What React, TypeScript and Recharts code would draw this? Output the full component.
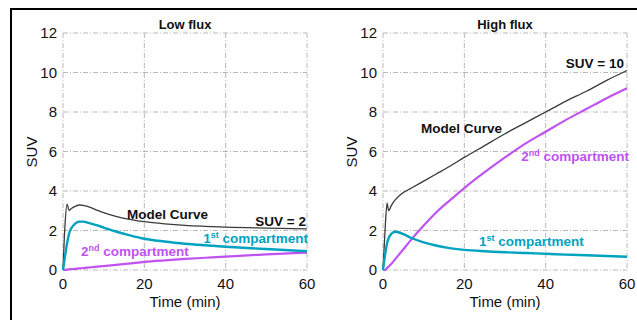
import React from "react";
import {
  LineChart,
  Line,
  XAxis,
  YAxis,
  CartesianGrid,
} from "recharts";

// Low flux panel
const lowTime = [0, 0.5, 1, 1.5, 2, 3, 4, 5, 6, 8, 10, 13, 16, 20, 25, 30, 35, 40, 50, 60];
const lowModel = [0, 2.3, 3.34, 3.02, 3.1, 3.22, 3.29, 3.27, 3.22, 3.06, 2.9, 2.72, 2.58, 2.45, 2.34, 2.26, 2.21, 2.17, 2.12, 2.08];
const lowFirst = [0, 0.7, 1.35, 1.85, 2.1, 2.35, 2.45, 2.45, 2.4, 2.28, 2.15, 1.95, 1.78, 1.58, 1.44, 1.33, 1.25, 1.18, 1.06, 0.95];
const lowSecond = [0, 0.01, 0.02, 0.03, 0.04, 0.06, 0.08, 0.1, 0.12, 0.16, 0.2, 0.26, 0.32, 0.41, 0.49, 0.56, 0.62, 0.68, 0.79, 0.88];

// High flux panel
const highTime = [0, 0.5, 1, 1.4, 2, 3, 4, 5, 7, 10, 13, 16, 20, 25, 30, 35, 40, 45, 50, 55, 60];
const highModel = [0, 2.0, 3.38, 3.0, 3.25, 3.55, 3.76, 3.92, 4.15, 4.5, 4.85, 5.2, 5.7, 6.3, 6.9, 7.45, 8.0, 8.55, 9.05, 9.6, 10.1];
const highFirst = [0, 0.75, 1.35, 1.62, 1.82, 1.94, 1.9, 1.82, 1.62, 1.4, 1.24, 1.12, 1.02, 0.95, 0.9, 0.86, 0.82, 0.78, 0.75, 0.71, 0.67];
const highSecond = [0, 0, 0.1, 0.18, 0.3, 0.55, 0.8, 1.05, 1.55, 2.25, 2.9, 3.45, 4.15, 4.95, 5.7, 6.4, 7.0, 7.6, 8.15, 8.7, 9.2];

const xTicks = [0, 20, 40, 60];
const yTicks = [0, 2, 4, 6, 8, 10, 12];

const MODEL_COLOR = "#3a3a3a";
const FIRST_COLOR = "#00a3bf";
const SECOND_COLOR = "#c052f2";
const FONT = "'Liberation Sans', Arial, Helvetica, sans-serif";

function buildRows(t: number[], m: number[], f: number[], s: number[]) {
  return t.map((time, i) => ({ time, model: m[i], first: f[i], second: s[i] }));
}

const lowData = buildRows(lowTime, lowModel, lowFirst, lowSecond);
const highData = buildRows(highTime, highModel, highFirst, highSecond);

const tickStyle = { fontSize: 15, fill: "#111", fontFamily: FONT };

function Panel({ data }: { data: ReturnType<typeof buildRows> }) {
  return (
    <LineChart
      width={317}
      height={320}
      data={data}
      margin={{ top: 33, right: 10, bottom: 0, left: 23 }}
    >
      <CartesianGrid stroke="#b8b8b8" strokeDasharray="5 2 1 2" />
      <XAxis
        dataKey="time"
        type="number"
        domain={[0, 60]}
        ticks={xTicks}
        height={50}
        axisLine={false}
        tickLine={false}
        tickSize={0}
        tickMargin={8}
        tick={tickStyle}
        interval={0}
      />
      <YAxis
        type="number"
        domain={[0, 12]}
        ticks={yTicks}
        width={40}
        axisLine={false}
        tickLine={false}
        tickSize={0}
        tickMargin={6}
        tick={tickStyle}
        interval={0}
      />
      <Line type="monotone" dataKey="model" stroke={MODEL_COLOR} strokeWidth={1.3} dot={false} isAnimationActive={false} />
      <Line type="monotone" dataKey="second" stroke={SECOND_COLOR} strokeWidth={2.2} dot={false} isAnimationActive={false} />
      <Line type="monotone" dataKey="first" stroke={FIRST_COLOR} strokeWidth={2.4} dot={false} isAnimationActive={false} />
    </LineChart>
  );
}

function Sup({ x, y, anchor, color, num, sup }: { x: number; y: number; anchor?: string; color: string; num: string; sup: string }) {
  return (
    <text x={x} y={y} fill={color} fontSize={13.5} fontWeight="bold" fontFamily={FONT} textAnchor={anchor || "start"}>
      {num}
      <tspan dy={-5} fontSize={9}>{sup}</tspan>
      <tspan dy={5}> compartment</tspan>
    </text>
  );
}

export default function App() {
  const bold = { fontFamily: FONT, fontWeight: "bold" as const, fontSize: 13.5, fill: "#111" };
  const plain = { fontFamily: FONT, fontSize: 15, fill: "#111" };
  return (
    <div style={{ position: "fixed", left: 0, top: 0, width: 637, height: 320, background: "#fff", overflow: "hidden" }}>
      <div style={{ position: "absolute", left: 10, top: 7.5, width: 640, height: 320, borderTop: "2px solid #000", borderLeft: "2px solid #000" }} />
      <div style={{ position: "absolute", left: 0, top: 0 }}>
        <Panel data={lowData} />
      </div>
      <div style={{ position: "absolute", left: 320, top: 0 }}>
        <Panel data={highData} />
      </div>
      <svg width={637} height={320} style={{ position: "absolute", left: 0, top: 0, pointerEvents: "none" }}>
        {/* titles */}
        <text x={185} y={29} textAnchor="middle" {...bold} fontSize={13}>Low flux</text>
        <text x={505} y={29} textAnchor="middle" {...bold} fontSize={13}>High flux</text>
        {/* axis titles */}
        <text x={185} y={307} textAnchor="middle" {...plain}>Time (min)</text>
        <text x={505} y={307} textAnchor="middle" {...plain}>Time (min)</text>
        <text transform="translate(37,152) rotate(-90)" textAnchor="middle" {...plain}>SUV</text>
        <text transform="translate(357,152) rotate(-90)" textAnchor="middle" {...plain}>SUV</text>
        {/* low flux notes */}
        <text x={127} y={219} {...bold}>Model Curve</text>
        <text x={306} y={226} textAnchor="end" {...bold}>SUV = 2</text>
        <Sup x={308} y={243} anchor="end" color={FIRST_COLOR} num="1" sup="st" />
        <Sup x={81} y={256} color={SECOND_COLOR} num="2" sup="nd" />
        {/* high flux notes */}
        <text x={624} y={68} textAnchor="end" {...bold}>SUV = 10</text>
        <text x={421} y={133} {...bold}>Model Curve</text>
        <Sup x={629} y={161} anchor="end" color={SECOND_COLOR} num="2" sup="nd" />
        <Sup x={479} y={246} color={FIRST_COLOR} num="1" sup="st" />
      </svg>
    </div>
  );
}
